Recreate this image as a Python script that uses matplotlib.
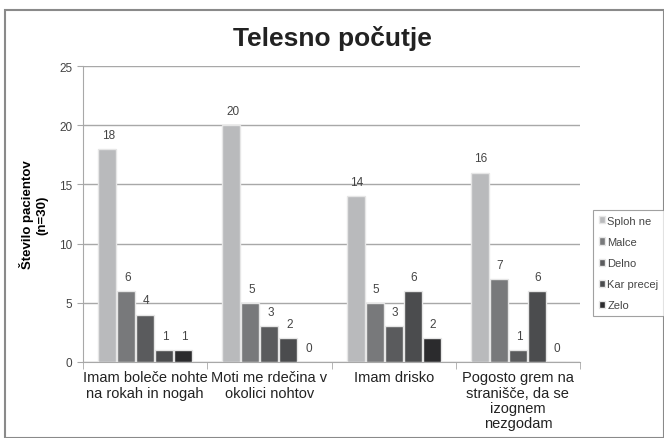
import matplotlib.pyplot as plt
import numpy as np
from matplotlib.patches import Rectangle

categories = ['Imam boleče nohte\nna rokah in nogah', 'Moti me rdečina v\nokolici nohtov',
              'Imam drisko', 'Pogosto grem na\nstranišče, da se\nizognem\nnezgodam']
series = ['Sploh ne', 'Malce', 'Delno', 'Kar precej', 'Zelo']
sploh_ne = [18, 20, 14, 16]
malce = [6, 5, 5, 7]
delno = [4, 3, 3, 1]
kar_precej = [1, 2, 6, 6]
zelo = [1, 0, 2, 0]
colors = ['#b9babc', '#78797b', '#5a5b5d', '#4b4c4e', '#2b2b2d']

values = [sploh_ne, malce, delno, kar_precej, zelo]

plt.rcParams['font.family'] = ['Liberation Sans', 'DejaVu Sans']

fig = plt.figure(figsize=(6.64, 4.39), dpi=100)
fig.patches.append(Rectangle((0.008, 0.0), 0.992, 0.975, transform=fig.transFigure,
                             fill=False, edgecolor='#8a8a8a', linewidth=1.5))
ax = fig.add_axes([83 / 664, 1 - 363 / 439, (580 - 83) / 664, (363 - 67) / 439])

x = np.arange(len(categories))
width = 0.153
for i, (name, vals) in enumerate(zip(series, values)):
    pos = x + (i - 2) * width
    ax.bar(pos, vals, width * 0.95, color=colors[i], edgecolor='#e6e6e6',
           linewidth=1.0, label=name, zorder=3)
    for p, v in zip(pos, vals):
        ax.text(p + 0.01, v + 0.7, str(v), ha='center', va='bottom',
                fontsize=8.5, color='#444444')

ax.set_ylim(0, 25)
ax.set_xlim(-0.5, 3.5)
ax.set_yticks([0, 5, 10, 15, 20, 25])
ax.yaxis.grid(True, color='#a8a8a8', linewidth=1.0, zorder=0)
ax.set_axisbelow(True)
for s in ['top', 'right']:
    ax.spines[s].set_visible(False)
ax.spines['left'].set_color('#a8a8a8')
ax.spines['bottom'].set_color('#a8a8a8')
ax.tick_params(axis='y', labelsize=8.5, colors='#444444', length=4, color='#a8a8a8')
ax.set_xticks(x)
ax.set_xticklabels(categories, fontsize=10.5, color='#222222', linespacing=1.12)
ax.tick_params(axis='x', length=0, pad=6)
ax.set_xticks(np.arange(-0.5, 4.0, 1.0), minor=True)
ax.tick_params(axis='x', which='minor', length=5, color='#a8a8a8')

ax.set_ylabel('Število pacientov\n(n=30)', fontsize=9.5, fontweight='bold', labelpad=8)

fig.text(0.5, 0.913, 'Telesno počutje', ha='center', va='center', fontsize=19,
         fontweight='bold', color='#222222')

leg = fig.legend(loc='center left', bbox_to_anchor=(593 / 664, 1 - 264 / 439), fontsize=8,
                 frameon=True, fancybox=False, edgecolor='#8a8a8a', handlelength=0.6,
                 handleheight=0.6, handletextpad=0.2, labelspacing=1.0, borderpad=0.5,
                 borderaxespad=0)
leg.get_frame().set_linewidth(0.8)
for t in leg.get_texts():
    t.set_color('#444444')

fig.savefig('out.png', dpi=100)
